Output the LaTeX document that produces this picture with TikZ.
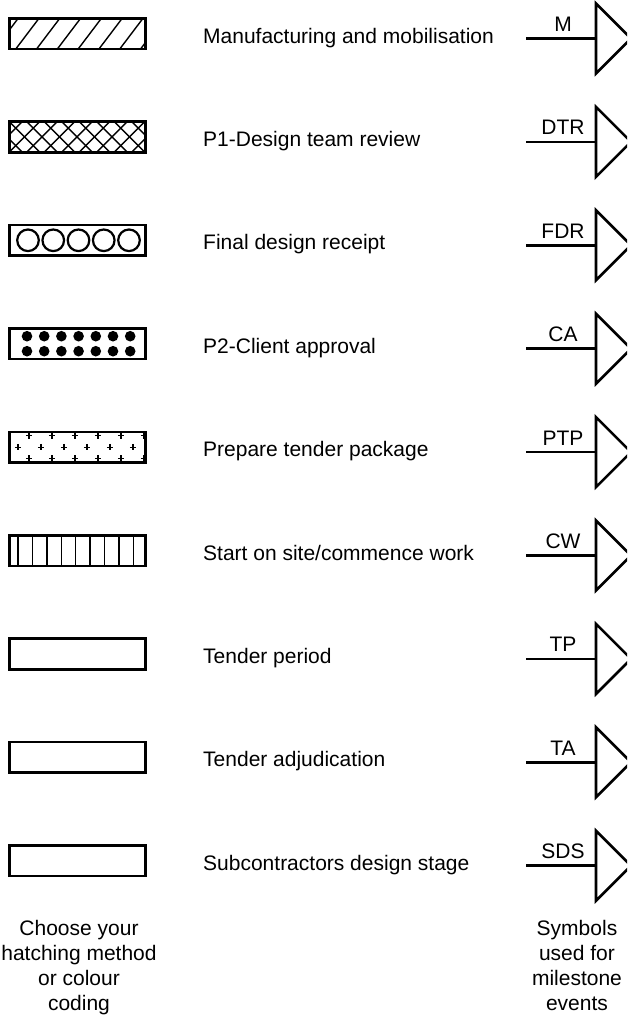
\documentclass[tikz,border=0pt]{standalone}
\usepackage{fontspec}
\setmainfont{Liberation Sans}
\begin{document}
\begin{tikzpicture}[x=1pt,y=-1pt,line join=miter,
  frame/.style={draw,line width=2.6pt,minimum width=136.4pt,minimum height=30.6pt,inner sep=0pt},
  hatch/.style={line width=1.4pt},
  txt/.style={inner sep=0pt,font=\fontsize{21}{25}\selectfont},
  desc/.style={txt,anchor=base west},
  code/.style={txt,anchor=base},
  note/.style={txt,align=center,anchor=base},
  stem/.style={line width=2.6pt},
  flag/.style={line width=2.6pt,line join=miter}]
\useasboundingbox (0,0) rectangle (627,1018);

% legend rows: sample bar, description, milestone symbol
\foreach \i/\what/\tag in {
  0/Manufacturing and mobilisation/M,
  1/P1-Design team review/DTR,
  2/Final design receipt/FDR,
  3/P2-Client approval/CA,
  4/Prepare tender package/PTP,
  5/{Start on site/commence work}/CW,
  6/Tender period/TP,
  7/Tender adjudication/TA,
  8/Subcontractors design stage/SDS}{
  \pgfmathsetmacro\cy{33.5+103.4*\i}
  \node[frame] (box\i) at (77.5,\cy) {};
  \node[desc] (lbl\i) at (203,\cy+9.5) {\what};
  \coordinate (tail\i) at (526,\cy+5);
  \coordinate (ms\i) at (596,\cy+5);
  \node[code] (tag\i) at (563,\cy-2) {\tag};
  \draw[stem] (tail\i) -- (ms\i);
  \begin{scope}
    \clip (0,0) rectangle (627,1018);
    \draw[flag] (ms\i) -- ++(0,-35) -- ++(35,35) -- ++(-35,35) -- cycle;
  \end{scope}
}

% single hatching
\begin{scope}[shift={(box0.center)}]
  \clip (-68.2,-15.3) rectangle (68.2,15.3);
  \foreach \k in {-2,...,7}
    \draw[hatch] (-62.5+20.8*\k,16.5) -- ++(25,-33);
\end{scope}

% cross hatching
\begin{scope}[shift={(box1.center)}]
  \clip (-68.2,-15.3) rectangle (68.2,15.3);
  \foreach \k in {-3,...,9}{
    \draw[hatch] (-69.5+17.5*\k,16.5) -- ++(33,-33);
    \draw[hatch] (-69.5+17.5*\k,-16.5) -- ++(33,33);
  }
\end{scope}

% open circles
\begin{scope}[shift={(box2.center)}]
  \foreach \k in {0,...,4}
    \draw[line width=2.2pt] (-49.5+25.25*\k,0) circle[radius=10.8];
\end{scope}

% filled dots
\begin{scope}[shift={(box3.center)}]
  \foreach \k in {0,...,6}{
    \fill (-50.5+17.2*\k,-7.5) circle[radius=5.3];
    \fill (-50.5+17.2*\k,7.5) circle[radius=5.3];
  }
\end{scope}

% crosses
\begin{scope}[shift={(box4.center)}]
  \foreach \k in {0,...,5}{
    \foreach \yy in {-11.5,11.5}
      \draw[line width=1.2pt] (-48.5+23*\k-3.2,\yy) -- ++(6.4,0)
        (-48.5+23*\k,\yy-3.2) -- ++(0,6.4);
    \draw[line width=1.2pt] (-59.5+23*\k-3.2,0) -- ++(6.4,0)
      (-59.5+23*\k,-3.2) -- ++(0,6.4);
  }
\end{scope}

% vertical ruling
\begin{scope}[shift={(box5.center)}]
  \foreach \k in {0,...,8}
    \draw[hatch] (-59.5+14.4*\k,-15.3) -- ++(0,30.6);
\end{scope}

% captions (anchored on the baseline of their last line)
\node[note] (choose) at (79,1010) {Choose your\\hatching method\\or colour\\coding};
\node[note] (symbols) at (577,1010) {Symbols\\used for\\milestone\\events};
\end{tikzpicture}
\end{document}
